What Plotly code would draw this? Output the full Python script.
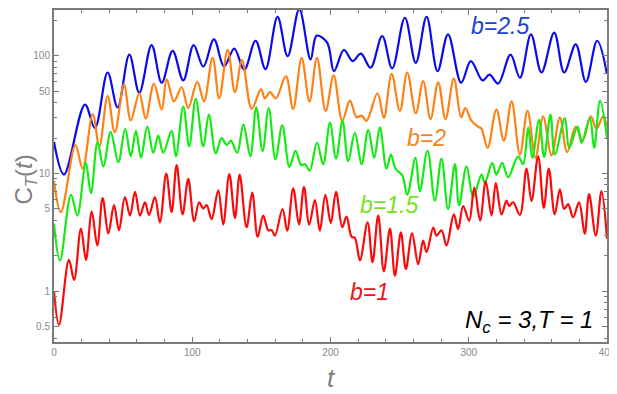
import plotly.graph_objects as go

# b = 2.5
t_b25 = [0, 7.2, 22.4, 29.6, 38.8, 46, 54.5, 61.7, 70.6, 77.9, 85.8, 93.5, 101, 108, 115.7, 123, 130.4, 137.6,
         145.8, 153, 161.7, 169, 177.4, 185.6, 190, 197.6, 202.5, 209.7, 216, 222, 229, 237.4, 244.6, 253.8,
         261.7, 269.5, 277.4, 285, 294.5, 301.5, 310, 315, 321.3, 330.2, 337, 345, 352.6, 361.8, 369, 377.4,
         384.7, 392.9, 400]
c_b25 = [18.5, 9.8, 38.5, 24.3, 72, 36.4, 102, 48.5, 123, 59, 110, 61.7, 123, 81, 138, 81, 115, 76,
         134, 77, 214, 99, 248, 93, 148, 129, 74, 112, 90, 104, 79, 147, 78, 210,
         87, 214, 74, 152, 59, 90, 61.7, 69, 58, 102, 65, 152, 72, 157, 72, 125,
         60, 134, 70]

# b = 2
t_b2 = [0, 5, 15.5, 20.7, 28, 32.8, 38.8, 44, 50.6, 55.5, 61.7, 66.3, 72.3, 77.9, 81.5, 86.8, 92.3, 97.1,
        103.6, 108.5, 114.7, 119.5, 125.6, 130.9, 136, 143, 149.7, 152.6, 156.2, 160.5, 167.7, 173, 179.1,
        184.8, 190.2, 196.5, 202.3, 208.5, 214, 218.9, 222.5, 226, 234, 238.6, 244.2, 250.2, 255.5, 261.7,
        267, 272.4, 277.9, 283.2, 289.2, 294.5, 297.5, 302, 306.8, 309.2, 313.6, 320, 325.4, 331, 337,
        342.5, 348.3, 353.8, 359.9, 365.9, 371.2, 377.4, 382.3, 388.3, 392.4, 397.2, 400]
c_b2 = [8.6, 4.7, 17.4, 11, 32, 17, 45.5, 22.4, 57, 28.3, 48, 29.3, 58, 34.8, 63, 41, 54, 36,
        60, 41, 96, 43.5, 112, 49, 92, 35.3, 52, 43.5, 49, 43.5, 67, 35.3, 96,
        41, 96, 34, 68, 28, 41.5, 30, 31, 28, 48, 29.6, 70, 34, 72, 32.5,
        61, 29, 59.5, 29, 64, 30, 36, 28, 25, 24, 16.5, 34.8, 19, 41, 14.5,
        34, 13.6, 30.5, 14.3, 29.8, 15.2, 25, 19, 30.5, 24, 30.5, 25]

# b = 1.5
t_b15 = [0, 4.3, 12.3, 16.9, 23, 26.7, 31.5, 35.7, 41, 46.5, 51.5, 55.5, 59.3, 62.9, 67.5, 71.8, 75.4, 79,
         85.1, 88.2, 93.5, 97.8, 102.5, 108, 112, 117, 121.2, 125, 128, 132.5, 137, 142, 146.3, 150.9,
         155.3, 160.2, 165.1, 170.3, 174.7, 178.8, 181.5, 185, 190.2, 194.7, 199.6, 204, 208.7, 212.8,
         217.6, 222.5, 227.3, 231.6, 235.7, 240.5, 243.7, 247, 252, 255.5, 261.5, 264.6, 270.2, 275.5,
         280.3, 285, 290, 293, 298.4, 303.2, 309.2, 311.6, 317, 320, 324.2, 328.5, 335.7, 339.3, 343,
         346, 350.9, 354.5, 359.1, 362.3, 369.5, 372.6, 378.7, 381.6, 387.6, 390.7, 395, 400]
c_b15 = [3.75, 1.83, 6.6, 4.4, 12.3, 6.8, 18.5, 11.5, 22.6, 12.5, 24, 14, 23, 13.6, 25, 15, 21, 15,
         23, 14, 37, 17, 43, 17, 31.6, 14.8, 20, 17.5, 19, 15, 26, 14, 36.5, 15.5,
         36, 13.2, 25.7, 11.4, 15.6, 11.8, 12, 10.6, 18.3, 12, 27, 13.4, 28, 12.7,
         22, 12, 23.5, 13.6, 24.6, 11, 14.5, 11, 9.6, 6.6, 13.6, 7.1, 15.6, 5.9,
         13.4, 5, 12, 5.4, 11.5, 6.3, 9.8, 8.3, 12.3, 9.8, 12.3, 9.3, 14, 12, 24.6,
         13.6, 28.6, 13.8, 31.6, 14.5, 29.5, 16.5, 25, 18.2, 29.5, 16.5, 41.6, 20]

# b = 1
t_b1 = [0, 3.6, 10.8, 14.5, 19.5, 23.1, 27.3, 31.3, 35.2, 39.3, 43.4, 47, 51.3, 55, 58.6, 62.2, 65.8, 68.7,
        73, 76.6, 81.2, 85.1, 88.7, 93, 97.1, 101.4, 105, 108, 110.4, 114, 118.8, 122.4, 126.8, 130.9,
        134.3, 139.3, 143.4, 147.3, 151.3, 155, 157.5, 159.8, 165.3, 168.7, 173, 177.2, 180.8, 184.6,
        188.7, 192.3, 196.3, 200.2, 204, 208.5, 211.6, 215.3, 217.6, 221.3, 226.8, 230.4, 234.5, 238.6,
        243, 246.6, 250.9, 254.5, 259, 263.4, 267, 269.5, 274.3, 276.7, 280.3, 283.9, 289.2, 292.3, 296,
        300.3, 304, 308.2, 312.3, 316.5, 319.6, 323.7, 327.3, 329.2, 332.1, 337, 341.8, 345.4, 350.2,
        354.3, 357.9, 362.2, 365.9, 369, 371.9, 375.5, 379.8, 383.9, 387, 391.9, 396, 400]
c_b1 = [1.0, 0.52, 1.85, 1.25, 3.4, 1.85, 4.75, 2.45, 6.2, 3.1, 5.4, 3.3, 6.3, 4.4, 7, 4.4, 5.7, 4.45,
        6.3, 3.85, 10, 4.7, 11.8, 4.5, 9, 3.95, 5.7, 5.05, 5.4, 4.1, 7.2, 3.7, 9.9, 4.2,
        9.8, 3.5, 6.9, 2.9, 4.4, 3.3, 3.3, 2.97, 5, 3.27, 7.5, 3.7, 7.7, 3.68,
        5.95, 3.27, 6.6, 3.8, 7.0, 3.5, 4.3, 2.9, 2.85, 1.83, 3.85, 1.77, 4.4, 1.48,
        3.4, 1.36, 3.16, 1.55, 3.1, 1.7, 2.7, 2.15, 3.48, 2.97, 3.3, 2.45, 4.5, 3.37, 5.3,
        3.96, 7.6, 4, 8.6, 4.4, 8.3, 4.5, 5.9, 5.3, 5.7, 4.45, 11, 5.85, 14,
        5.1, 11, 4.5, 7.35, 5, 5.5, 4.25, 5.7, 3.07, 6.7, 2.97, 7.1, 2.8]

series = [
    (t_b25, c_b25, 'rgb(10,10,235)'),
    (t_b2, c_b2, 'rgb(255,128,20)'),
    (t_b15, c_b15, 'rgb(20,235,20)'),
    (t_b1, c_b1, 'rgb(250,10,10)'),
]

fig = go.Figure()
for t, c, col in series:
    fig.add_trace(go.Scatter(x=t, y=c, mode='lines',
                             line=dict(color=col, width=2.2, shape='spline', smoothing=1.0),
                             showlegend=False, hoverinfo='skip'))

axcol = '#7a7a7a'
font = 'Liberation Sans, Arial'
ymajor = [0.5, 1, 5, 10, 50, 100]
yminor = [0.4, 0.6, 0.7, 0.8, 0.9, 2, 3, 4, 6, 7, 8, 9, 20, 30, 40, 60, 70, 80, 90, 200]

fig.update_xaxes(range=[0, 400], showgrid=False, zeroline=False,
                 showline=True, linecolor=axcol, linewidth=2, mirror='ticks',
                 ticks='inside', ticklen=5, tickcolor=axcol, tickwidth=1,
                 tickvals=[0, 100, 200, 300, 400],
                 minor=dict(ticks='inside', ticklen=3, tickcolor=axcol, dtick=20, showgrid=False),
                 tickfont=dict(size=10, color='#888888', family=font))
fig.update_yaxes(type='log', range=[-0.43, 2.388], showgrid=False, zeroline=False,
                 showline=True, linecolor=axcol, linewidth=2, mirror='ticks',
                 ticks='inside', ticklen=5, tickcolor=axcol, tickwidth=1,
                 tickvals=ymajor, ticktext=['0.5', '1', '5', '10', '50', '100'],
                 minor=dict(ticks='inside', ticklen=3, tickcolor=axcol, tickvals=yminor, showgrid=False),
                 tickfont=dict(size=10, color='#888888', family=font))

anns = [
    dict(x=0.806, y=0.952, text='<i>b=2.5</i>', font=dict(size=23, color='rgb(25,65,210)', family=font)),
    dict(x=0.673, y=0.614, text='<i>b=2</i>', font=dict(size=23, color='rgb(240,135,35)', family=font)),
    dict(x=0.606, y=0.413, text='<i>b=1.5</i>', font=dict(size=23, color='rgb(120,225,30)', family=font)),
    dict(x=0.570, y=0.150, text='<i>b=1</i>', font=dict(size=23, color='rgb(235,20,20)', family=font)),
    dict(x=0.859, y=0.063, text='<i>N<sub>c</sub> = 3,T = 1</i>', font=dict(size=24, color='black', family=font)),
]
for a in anns:
    fig.add_annotation(xref='paper', yref='paper', xanchor='center', yanchor='middle', showarrow=False, **a)

fig.add_annotation(xref='paper', yref='paper', x=-0.052, y=0.49, xanchor='center', yanchor='middle',
                   text='C<sub><i>T</i></sub>(<i>t</i>)', textangle=-90, showarrow=False,
                   font=dict(size=24, color='#808080', family=font))
fig.add_annotation(xref='paper', yref='paper', x=0.501, y=-0.108, xanchor='center', yanchor='middle',
                   text='<i>t</i>', showarrow=False,
                   font=dict(size=26, color='#808080', family=font))

# page body has an 8px margin, so the figure is shifted to sit where the reference does
fig.update_layout(width=609, height=386, plot_bgcolor='white', paper_bgcolor='white',
                  margin=dict(l=46, r=10, t=0, b=52), showlegend=False)
fig.write_html("out.html")
